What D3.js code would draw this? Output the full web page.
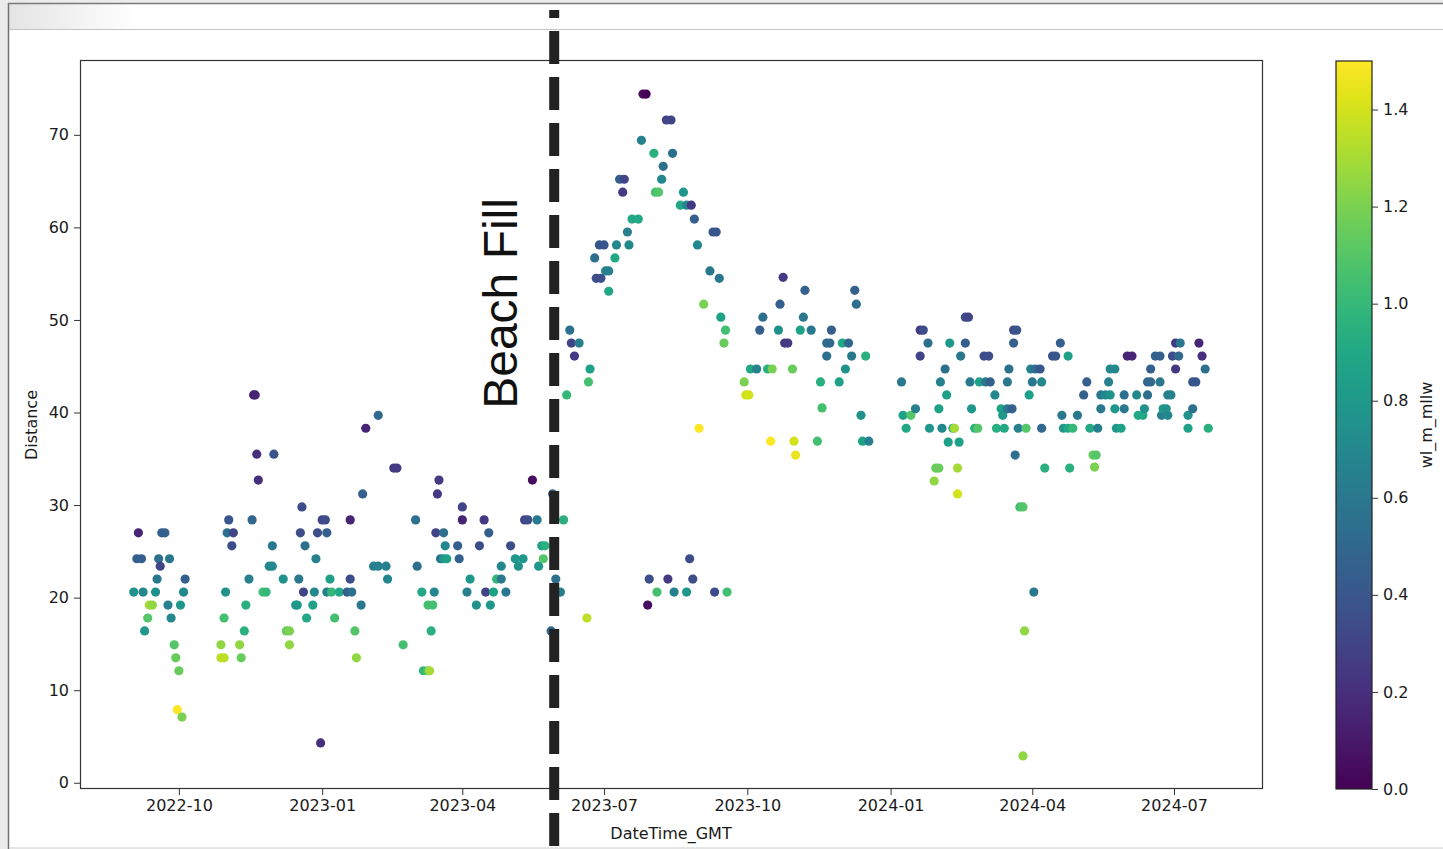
<!DOCTYPE html>
<html>
<head>
<meta charset="utf-8">
<script src="https://cdn.jsdelivr.net/npm/d3@7"></script>
<style>
body { margin: 0; background: #fff; }
svg { display: block; font-family: "DejaVu Sans", sans-serif; }
</style>
</head>
<body>
<svg id="chart" width="1443" height="849"></svg>
<script>
// survey dates, shoreline distance and water level (m, MLLW)
var surveyDates = [
"2022-09-02","2022-09-04","2022-09-05","2022-09-07","2022-09-08","2022-09-09","2022-09-11","2022-09-12","2022-09-14","2022-09-16",
"2022-09-17","2022-09-18","2022-09-19","2022-09-20","2022-09-22","2022-09-24","2022-09-25","2022-09-26","2022-09-28","2022-09-29",
"2022-09-30","2022-10-01","2022-10-02","2022-10-03","2022-10-04","2022-10-05","2022-10-28","2022-10-28","2022-10-30","2022-10-30",
"2022-10-31","2022-11-01","2022-11-02","2022-11-04","2022-11-05","2022-11-09","2022-11-10","2022-11-12","2022-11-13","2022-11-15",
"2022-11-17","2022-11-18","2022-11-19","2022-11-20","2022-11-21","2022-11-24","2022-11-26","2022-11-28","2022-11-30","2022-11-30",
"2022-12-01","2022-12-07","2022-12-09","2022-12-11","2022-12-11","2022-12-15","2022-12-16","2022-12-17","2022-12-18","2022-12-19",
"2022-12-20","2022-12-21","2022-12-22","2022-12-26","2022-12-27","2022-12-28","2022-12-29","2022-12-31","2023-01-01","2023-01-03",
"2023-01-04","2023-01-04","2023-01-06","2023-01-07","2023-01-09","2023-01-12","2023-01-17","2023-01-19","2023-01-19","2023-01-20",
"2023-01-22","2023-01-23","2023-01-26","2023-01-27","2023-01-29","2023-02-03","2023-02-06","2023-02-06","2023-02-11","2023-02-12",
"2023-02-16","2023-02-18","2023-02-22","2023-03-02","2023-03-03","2023-03-06","2023-03-07","2023-03-10","2023-03-10","2023-03-11",
"2023-03-12","2023-03-13","2023-03-14","2023-03-15","2023-03-16","2023-03-17","2023-03-18","2023-03-20","2023-03-20","2023-03-21",
"2023-03-22","2023-03-29","2023-03-30","2023-04-01","2023-04-01","2023-04-04","2023-04-06","2023-04-10","2023-04-12","2023-04-15",
"2023-04-16","2023-04-18","2023-04-19","2023-04-21","2023-04-23","2023-04-26","2023-04-26","2023-04-29","2023-05-02","2023-05-05",
"2023-05-07","2023-05-10","2023-05-11","2023-05-13","2023-05-16","2023-05-19","2023-05-20","2023-05-22","2023-05-23","2023-05-24",
"2023-05-28","2023-05-29","2023-05-31","2023-06-03","2023-06-05","2023-06-07","2023-06-09","2023-06-10","2023-06-12","2023-06-15",
"2023-06-20","2023-06-21","2023-06-22","2023-06-25","2023-06-26","2023-06-28","2023-06-29","2023-07-01","2023-07-02","2023-07-04",
"2023-07-04","2023-07-08","2023-07-09","2023-07-11","2023-07-13","2023-07-14","2023-07-16","2023-07-17","2023-07-19","2023-07-23",
"2023-07-25","2023-07-26","2023-07-28","2023-07-29","2023-07-30","2023-08-02","2023-08-03","2023-08-04","2023-08-05","2023-08-07",
"2023-08-08","2023-08-10","2023-08-11","2023-08-13","2023-08-14","2023-08-15","2023-08-19","2023-08-21","2023-08-23","2023-08-23",
"2023-08-25","2023-08-26","2023-08-27","2023-08-28","2023-08-30","2023-08-31","2023-09-03","2023-09-07","2023-09-09","2023-09-10",
"2023-09-11","2023-09-13","2023-09-14","2023-09-16","2023-09-17","2023-09-18","2023-09-29","2023-09-30","2023-10-02","2023-10-03",
"2023-10-07","2023-10-09","2023-10-11","2023-10-14","2023-10-16","2023-10-17","2023-10-21","2023-10-22","2023-10-24","2023-10-25",
"2023-10-27","2023-10-30","2023-10-31","2023-11-01","2023-11-04","2023-11-06","2023-11-07","2023-11-11","2023-11-15","2023-11-17",
"2023-11-18","2023-11-21","2023-11-21","2023-11-23","2023-11-24","2023-11-29","2023-12-01","2023-12-03","2023-12-05","2023-12-07",
"2023-12-09","2023-12-10","2023-12-13","2023-12-14","2023-12-16","2023-12-18","2024-01-08","2024-01-09","2024-01-11","2024-01-14",
"2024-01-17","2024-01-20","2024-01-20","2024-01-22","2024-01-25","2024-01-26","2024-01-29","2024-01-30","2024-02-01","2024-02-01",
"2024-02-02","2024-02-03","2024-02-05","2024-02-06","2024-02-07","2024-02-08","2024-02-10","2024-02-11","2024-02-13","2024-02-13",
"2024-02-14","2024-02-15","2024-02-18","2024-02-18","2024-02-20","2024-02-21","2024-02-22","2024-02-24","2024-02-26","2024-02-27",
"2024-03-01","2024-03-02","2024-03-04","2024-03-05","2024-03-08","2024-03-09","2024-03-12","2024-03-13","2024-03-14","2024-03-16",
"2024-03-16","2024-03-17","2024-03-19","2024-03-20","2024-03-20","2024-03-21","2024-03-22","2024-03-23","2024-03-24","2024-03-26",
"2024-03-26","2024-03-27","2024-03-28","2024-03-30","2024-03-31","2024-04-01","2024-04-02","2024-04-03","2024-04-06","2024-04-07",
"2024-04-07","2024-04-09","2024-04-14","2024-04-16","2024-04-19","2024-04-20","2024-04-21","2024-04-24","2024-04-24","2024-04-25",
"2024-04-27","2024-04-30","2024-05-04","2024-05-06","2024-05-08","2024-05-10","2024-05-11","2024-05-12","2024-05-13","2024-05-15",
"2024-05-15","2024-05-18","2024-05-20","2024-05-21","2024-05-21","2024-05-24","2024-05-24","2024-05-25","2024-05-28","2024-05-30",
"2024-05-30","2024-06-01","2024-06-04","2024-06-07","2024-06-08","2024-06-11","2024-06-12","2024-06-14","2024-06-14","2024-06-16",
"2024-06-16","2024-06-19","2024-06-22","2024-06-22","2024-06-23","2024-06-24","2024-06-26","2024-06-27","2024-06-27","2024-06-29",
"2024-06-30","2024-07-02","2024-07-02","2024-07-04","2024-07-05","2024-07-10","2024-07-10","2024-07-13","2024-07-13","2024-07-15",
"2024-07-17","2024-07-19","2024-07-21","2024-07-23"
];

var distance = [
20.6,24.2,27.0,24.2,20.6,16.4,17.8,19.2,19.2,20.6,
22.0,24.2,23.4,27.0,27.0,19.2,24.2,17.8,14.9,13.5,
7.9,12.1,19.2,7.1,20.6,22.0,14.9,13.5,13.5,17.8,
20.6,27.0,28.4,25.6,27.0,14.9,13.5,16.4,19.2,22.0,
28.4,41.9,41.9,35.5,32.7,20.6,20.6,23.4,23.4,25.6,
35.5,22.0,16.4,16.4,14.9,19.2,19.2,22.0,27.0,29.8,
20.6,25.6,17.8,19.2,20.6,24.2,27.0,4.3,28.4,28.4,
27.0,20.6,22.0,20.6,17.8,20.6,20.6,28.4,22.0,20.6,
16.4,13.5,19.2,31.2,38.3,23.4,39.7,23.4,23.4,22.0,
34.0,34.0,14.9,28.4,23.4,20.6,12.1,12.1,19.2,12.1,
16.4,19.2,20.6,27.0,31.2,32.7,24.2,24.2,27.0,25.6,
24.2,25.6,24.2,29.8,28.4,20.6,22.0,19.2,25.6,28.4,
20.6,27.0,19.2,20.6,22.0,23.4,22.0,20.6,25.6,24.2,
23.4,24.2,28.4,28.4,32.7,28.4,23.4,25.6,24.2,25.6,
16.4,31.2,22.0,20.6,28.4,41.9,48.9,47.5,46.1,47.5,
17.8,43.3,44.7,56.7,54.5,58.1,54.5,58.1,55.3,53.1,
55.3,56.7,58.1,65.2,63.8,65.2,59.5,58.1,60.9,60.9,
69.4,74.4,74.4,19.2,22.0,68.0,63.8,20.6,63.8,65.2,
66.6,71.6,22.0,71.6,68.0,20.6,62.4,63.8,62.4,20.6,
24.2,62.4,22.0,60.9,58.1,38.3,51.7,55.3,59.5,20.6,
59.5,54.5,50.3,47.5,48.9,20.6,43.3,41.9,41.9,44.7,
44.7,48.9,50.3,44.7,36.9,44.7,48.9,51.7,54.6,47.5,
47.5,44.7,36.9,35.4,48.9,50.3,53.2,48.9,36.9,43.3,
40.5,46.1,47.5,47.5,48.9,43.3,47.5,44.7,47.5,46.1,
53.2,51.7,39.7,36.9,46.1,36.9,43.3,39.7,38.3,39.7,
40.4,48.9,46.1,48.9,47.5,38.3,32.6,34.0,34.0,40.4,
43.3,38.3,44.7,41.9,36.8,47.5,38.3,38.3,34.0,31.2,
36.8,46.1,47.5,50.3,50.3,43.3,40.4,38.3,38.3,43.3,
46.1,43.3,46.1,43.3,41.9,38.3,40.4,39.7,38.3,40.4,
43.3,44.7,40.4,47.5,48.9,35.4,48.9,38.3,29.8,29.8,
2.9,16.4,38.3,41.9,44.7,43.3,20.6,44.7,44.7,38.3,
43.3,34.0,46.1,46.1,47.5,39.7,38.3,46.1,38.3,34.0,
38.3,39.7,41.9,43.3,38.3,35.4,34.1,35.4,38.3,41.9,
40.4,41.9,43.3,41.9,44.7,44.7,40.4,38.3,38.3,40.4,
41.9,46.1,46.1,41.9,39.7,39.7,40.4,43.3,41.9,43.3,
44.7,46.1,46.1,43.3,39.7,40.4,40.4,39.7,41.9,41.9,
46.1,44.7,47.5,46.1,47.5,38.3,39.7,40.4,43.3,43.3,
47.5,46.1,44.7,38.3
];

var wlMllw = [
0.75,0.45,0.15,0.45,0.7,0.8,1.1,1.3,1.25,0.75,
0.6,0.55,0.3,0.45,0.45,0.65,0.6,0.7,1.1,1.15,
1.5,1.15,0.8,1.2,0.7,0.45,1.25,1.35,1.35,1.05,
0.75,0.55,0.4,0.35,0.3,1.25,1.15,0.95,0.95,0.65,
0.5,0.1,0.15,0.2,0.2,1.05,1.0,0.7,0.7,0.6,
0.4,0.75,1.15,1.2,1.25,0.8,0.8,0.6,0.35,0.35,
0.3,0.55,0.9,0.85,0.7,0.65,0.35,0.2,0.3,0.35,
0.45,0.65,0.85,1.0,1.05,0.9,0.45,0.15,0.35,0.55,
1.1,1.25,0.6,0.45,0.15,0.65,0.5,0.65,0.65,0.7,
0.25,0.25,1.05,0.55,0.55,0.9,1.0,1.1,1.05,1.3,
0.95,1.05,0.7,0.3,0.25,0.25,0.55,0.8,0.55,0.7,
0.85,0.45,0.45,0.3,0.15,0.65,0.8,0.75,0.35,0.25,
0.3,0.45,0.8,0.85,1.0,0.7,0.6,0.6,0.35,0.8,
0.75,0.8,0.3,0.35,0.05,0.6,0.8,0.85,1.1,0.95,
0.5,0.45,0.55,0.65,0.95,1.0,0.55,0.3,0.25,0.65,
1.35,1.05,0.85,0.55,0.35,0.4,0.35,0.4,0.65,0.9,
0.65,0.9,0.7,0.45,0.25,0.3,0.65,0.7,0.9,0.9,
0.65,0.05,0.0,0.05,0.35,0.95,1.05,1.05,1.1,0.7,
0.55,0.3,0.25,0.3,0.55,0.65,0.9,0.8,0.7,0.8,
0.35,0.25,0.35,0.45,0.7,1.5,1.2,0.6,0.4,0.35,
0.4,0.6,0.85,1.15,1.05,1.05,1.2,1.4,1.4,0.9,
0.65,0.45,0.55,0.95,1.5,1.2,0.75,0.45,0.25,0.25,
0.25,1.15,1.4,1.45,0.85,0.6,0.45,0.6,1.05,0.95,
1.05,0.55,0.5,0.5,0.45,0.85,0.9,0.75,0.5,0.6,
0.45,0.55,0.75,0.85,0.95,0.65,0.6,0.85,0.9,1.1,
0.65,0.25,0.3,0.35,0.55,0.8,1.25,1.15,1.15,0.85,
0.65,0.7,0.55,0.85,0.85,0.8,0.95,1.3,1.3,1.4,
0.85,0.6,0.45,0.35,0.3,0.6,0.8,0.95,1.1,0.85,
0.35,0.6,0.35,0.45,0.7,0.95,0.85,0.8,0.9,0.6,
0.6,0.55,0.45,0.45,0.35,0.55,0.4,0.65,1.05,1.1,
1.25,1.25,1.1,0.85,0.65,0.6,0.6,0.55,0.4,0.5,
0.7,0.95,0.4,0.4,0.45,0.6,0.8,0.85,0.9,0.95,
1.0,0.6,0.45,0.45,0.9,1.15,1.2,1.1,0.65,0.6,
0.6,0.7,0.65,0.75,0.7,0.7,0.8,0.8,0.85,0.6,
0.55,0.15,0.15,0.7,0.9,0.9,0.75,0.5,0.55,0.5,
0.45,0.45,0.45,0.6,0.65,0.8,0.75,0.7,0.65,0.65,
0.35,0.25,0.25,0.5,0.6,0.85,0.75,0.55,0.4,0.4,
0.15,0.2,0.55,0.95
];

var xTickDates = ["2022-10-01","2023-01-01","2023-04-01","2023-07-01","2023-10-01","2024-01-01","2024-04-01","2024-07-01"];
var yTickValues = [0, 10, 20, 30, 40, 50, 60, 70];
var colorTicks = [0.0, 0.2, 0.4, 0.6, 0.8, 1.0, 1.2, 1.4];
var colorRange = [0, 1.5];
var beachFillDate = "2023-05-30";
var beachFillLabel = "Beach Fill";

var W = 1443, H = 849;
var margin = {left: 80, top: 61, right: 1262, bottom: 789};
var parse = d3.utcParse("%Y-%m-%d");
var ink = "#1a1a1a";

var svg = d3.select("#chart");

// screenshot window frame around the figure
var defs = svg.append("defs");
var hg = defs.append("linearGradient").attr("id", "hdr").attr("x1", 0).attr("x2", 1).attr("y1", 0).attr("y2", 0);
hg.append("stop").attr("offset", "0%").attr("stop-color", "#e4e4e4");
hg.append("stop").attr("offset", "9%").attr("stop-color", "#ffffff");
svg.append("rect").attr("width", W).attr("height", H).attr("fill", "#fff");
svg.append("rect").attr("x", 0).attr("y", 0).attr("width", 8).attr("height", H).attr("fill", "#ebebeb");
svg.append("rect").attr("x", 0).attr("y", 0).attr("width", W).attr("height", 3).attr("fill", "#ebebeb");
svg.append("rect").attr("x", 9).attr("y", 4).attr("width", W - 9).attr("height", 25).attr("fill", "url(#hdr)");
svg.append("line").attr("x1", 8.5).attr("x2", 8.5).attr("y1", 3).attr("y2", H).attr("stroke", "#707070").attr("stroke-width", 1.5);
svg.append("line").attr("x1", 8).attr("x2", W).attr("y1", 3.5).attr("y2", 3.5).attr("stroke", "#7a7a7a").attr("stroke-width", 1.5);
svg.append("line").attr("x1", 9).attr("x2", W).attr("y1", 29.5).attr("y2", 29.5).attr("stroke", "#c4c4c4");
svg.append("line").attr("x1", 9).attr("x2", W).attr("y1", 848).attr("y2", 848).attr("stroke", "#cccccc");

var points = surveyDates.map(function(d, i) {
    return {date: parse(d), dist: distance[i], wl: wlMllw[i]};
});

// matplotlib style 5% margins on both axes
var xExt = d3.extent(points, d => d.date);
var xPad = (xExt[1] - xExt[0]) * 0.05;
var xScale = d3.scaleUtc()
    .domain([new Date(+xExt[0] - xPad), new Date(+xExt[1] + xPad)])
    .range([margin.left, margin.right]);

var yExt = d3.extent(points, d => d.dist);
var yPad = (yExt[1] - yExt[0]) * 0.05;
var yScale = d3.scaleLinear()
    .domain([yExt[0] - yPad, yExt[1] + yPad])
    .range([margin.bottom, margin.top]);

var color = function(v) { return d3.interpolateViridis((v - colorRange[0]) / (colorRange[1] - colorRange[0])); };

// axes
var xAxis = svg.append("g")
    .attr("transform", "translate(0," + margin.bottom + ")")
    .call(d3.axisBottom(xScale)
        .tickValues(xTickDates.map(parse))
        .tickFormat(d3.utcFormat("%Y-%m"))
        .tickSize(6).tickPadding(5).tickSizeOuter(0));
var yAxis = svg.append("g")
    .attr("transform", "translate(" + margin.left + ",0)")
    .call(d3.axisLeft(yScale)
        .tickValues(yTickValues)
        .tickSize(6).tickPadding(5).tickSizeOuter(0));
[xAxis, yAxis].forEach(function(g) {
    g.select(".domain").remove();
    g.selectAll(".tick line").attr("stroke", "#333");
    g.selectAll(".tick text").attr("fill", ink).style("font-size", "16px").style("font-family", "DejaVu Sans");
});

// points
svg.append("g").selectAll("circle")
    .data(points)
    .enter().append("circle")
    .attr("cx", d => xScale(d.date))
    .attr("cy", d => yScale(d.dist))
    .attr("r", 4.6)
    .attr("fill", d => color(d.wl));

// plot frame
svg.append("rect")
    .attr("x", margin.left + 0.5).attr("y", margin.top - 0.5)
    .attr("width", margin.right - margin.left).attr("height", margin.bottom - margin.top)
    .attr("fill", "none").attr("stroke", "#333").attr("stroke-width", 1.2);

// axis labels
svg.append("text")
    .attr("x", (margin.left + margin.right) / 2).attr("y", 839)
    .attr("text-anchor", "middle").attr("fill", ink)
    .style("font-size", "16px").text("DateTime_GMT");
svg.append("text")
    .attr("transform", "translate(37," + ((margin.top + margin.bottom) / 2) + ") rotate(-90)")
    .attr("text-anchor", "middle").attr("fill", ink)
    .style("font-size", "16px").text("Distance");

// beach fill marker, not clipped to the axes
var bx = xScale(parse(beachFillDate));
svg.append("line")
    .attr("x1", bx).attr("x2", bx).attr("y1", 10).attr("y2", H)
    .attr("stroke", "#222").attr("stroke-width", 10)
    .attr("stroke-dasharray", "33 13").attr("stroke-dashoffset", 25);
svg.append("text")
    .attr("transform", "translate(" + (bx - 37) + "," + yScale(40.4) + ") rotate(-90)")
    .attr("text-anchor", "start").attr("fill", "#111")
    .style("font-family", "Liberation Sans, Arial, sans-serif").style("font-size", "48px")
    .text(beachFillLabel);

// colorbar
var cb = {x: 1336, w: 36};
var cScale = d3.scaleLinear().domain(colorRange).range([margin.bottom, margin.top]);
var cg = defs.append("linearGradient").attr("id", "viridis").attr("x1", 0).attr("x2", 0).attr("y1", 1).attr("y2", 0);
d3.range(0, 1.0001, 0.05).forEach(function(t) {
    cg.append("stop").attr("offset", (t * 100) + "%").attr("stop-color", d3.interpolateViridis(t));
});
svg.append("rect")
    .attr("x", cb.x).attr("y", cScale(colorRange[1]))
    .attr("width", cb.w).attr("height", cScale(colorRange[0]) - cScale(colorRange[1]))
    .attr("fill", "url(#viridis)").attr("stroke", "#222").attr("stroke-width", 1.2);
var cAxis = svg.append("g")
    .attr("transform", "translate(" + (cb.x + cb.w) + ",0)")
    .call(d3.axisRight(cScale).tickValues(colorTicks).tickFormat(d3.format(".1f"))
        .tickSize(6).tickPadding(5).tickSizeOuter(0));
cAxis.select(".domain").remove();
cAxis.selectAll(".tick line").attr("stroke", "#333");
cAxis.selectAll(".tick text").attr("fill", ink).style("font-size", "16px").style("font-family", "DejaVu Sans");
svg.append("text")
    .attr("transform", "translate(1432," + ((margin.top + margin.bottom) / 2) + ") rotate(-90)")
    .attr("text-anchor", "middle").attr("fill", ink)
    .style("font-size", "16px").text("wl_m_mllw");
</script>
</body>
</html>
